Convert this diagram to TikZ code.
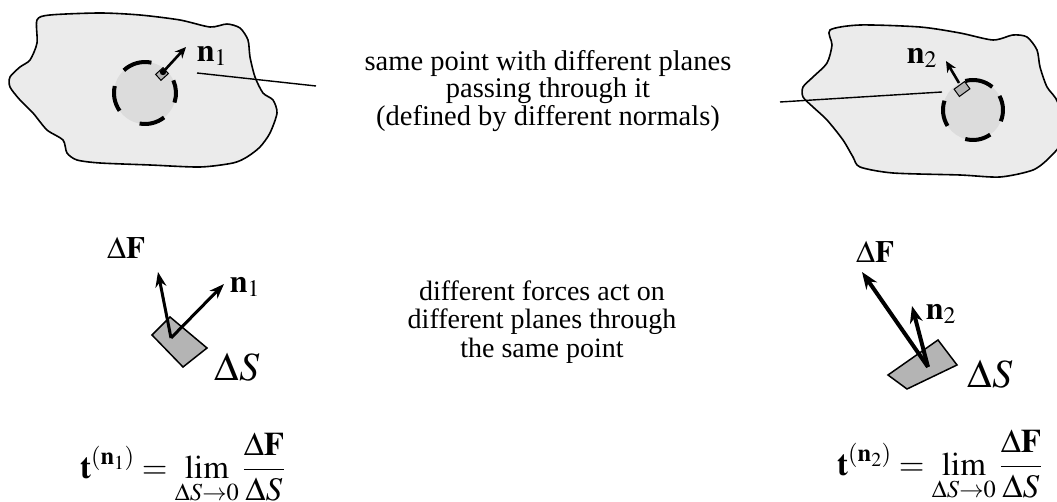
\documentclass[tikz,border=0pt]{standalone}
\usepackage{mathptmx}
\usepackage{fontspec}
\setmainfont{Liberation Serif}
\usetikzlibrary{arrows.meta}
\definecolor{blobfill}{HTML}{EBEBEB}
\definecolor{discfill}{HTML}{DCDCDC}
\definecolor{patchfill}{HTML}{B4B4B4}
\tikzset{
  blob/.style={draw=black, line width=1.6pt, fill=blobfill},
  disc/.style={fill=discfill},
  dasharc/.style={draw=black, line width=4pt},
  smallsq/.style={draw=black, line width=1pt, fill=patchfill, rectangle, inner sep=0pt},
  patch/.style={draw=black, line width=1.5pt, fill=patchfill, line join=miter},
  leader/.style={draw=black, line width=1.4pt},
  nrm/.style={draw=black, line width=2.6pt, -{Stealth[length=11pt, width=10pt]}},
  force/.style={draw=black, line width=3pt, -{Stealth[length=15pt, width=11pt]}},
  bigforce/.style={draw=black, line width=4pt, -{Stealth[length=17pt, width=13pt]}},
  txt/.style={align=center, inner sep=0pt, font=\fontsize{28.5}{27.5}\selectfont},
  txtb/.style={align=center, inner sep=0pt, font=\fontsize{28}{28.5}\selectfont},
  nlab/.style={inner sep=0pt, font=\fontsize{32}{36}\selectfont},
  flab/.style={inner sep=0pt, font=\fontsize{31}{36}\selectfont},
  slab/.style={inner sep=0pt, font=\fontsize{40}{44}\selectfont},
  formula/.style={inner sep=0pt, font=\fontsize{33}{38}\selectfont, anchor=base west},
}
\begin{document}
\begin{tikzpicture}[x=1pt, y=-1pt]
\useasboundingbox (0,0) rectangle (1057,502);
\clip (0,0) rectangle (1057,502);

% ---------- left body ----------
\path[blob] plot[smooth cycle, tension=0.45] coordinates {
 (37,20) (50,15) (100,13) (140,15) (180,20) (210,27) (227,24) (240,28)
 (248,40) (250,57) (255,77) (263,93) (273,100) (277,113) (270,133)
 (260,147) (247,157) (233,163) (200,167) (150,165) (100,163) (77,160)
 (67,153) (63,140) (47,130) (33,113) (20,100) (10,87) (10,77) (20,67)
 (30,60) (37,43)};
\coordinate (c1) at (145,93);
\fill[disc] (c1) circle[radius=31];
\foreach \a/\b in {78/133, 167/215, -100/-52, -18/24}{
  \draw[dasharc] ([shift={(-\a:31)}]c1) arc[start angle=-\a, end angle=-\b, radius=31];
}
\node[smallsq, rotate=42, minimum width=10pt, minimum height=8pt] (sq1) at (162,74) {};
\coordinate (b1) at (163,72);
\coordinate (h1) at (186,47);
\draw[nrm] (b1) -- (h1);
\fill[black] (b1) circle[radius=3.2];
\node[nlab] (n1top) at (212,56) {$\mathbf{n}_1$};

% ---------- right body ----------
\path[blob] plot[smooth cycle, tension=0.45] coordinates {
 (830,30) (860,25) (920,27) (960,33) (993,40) (1013,35) (1027,37)
 (1037,50) (1040,67) (1047,87) (1058,103) (1062,140) (1050,157)
 (1033,170) (1000,177) (960,175) (893,173) (860,167) (853,157)
 (843,140) (827,120) (813,107) (803,97) (803,87) (813,77) (827,63) (832,45)};
\coordinate (c2) at (973,110);
\fill[disc] (c2) circle[radius=30];
\foreach \a/\b in {50/105, 162/212, -105/-55, -22/28}{
  \draw[dasharc] ([shift={(-\a:30)}]c2) arc[start angle=-\a, end angle=-\b, radius=30];
}
\node[smallsq, rotate=36, minimum width=13pt, minimum height=9pt] (sq2) at (962,89) {};
\coordinate (b2) at (959,83);
\coordinate (h2) at (946,61);
\draw[nrm] (b2) -- (h2);
\node[nlab] (n2top) at (922,58) {$\mathbf{n}_{2}$};

% ---------- leaders and top text ----------
\node[txt] (toptext) at (548,91) {same point with different planes\\passing through it\\(defined by different normals)};
\coordinate (l1a) at (197,73);
\coordinate (l1b) at (316,86);
\draw[leader] (l1a) -- (l1b);
\coordinate (l2a) at (942,92);
\coordinate (l2b) at (780,102);
\draw[leader] (l2a) -- (l2b);

% ---------- middle left ----------
\path[patch] (152,335) -- (170,317) -- (207,348) -- (183,367) -- cycle;
\coordinate (p1) at (171,338);
\coordinate (f1) at (158,272);
\coordinate (m1) at (224,284);
\draw[force] (p1) -- (f1);
\draw[force] (p1) -- (m1);
\node[flab] (dF1) at (126,248) {$\Delta\mathbf{F}$};
\node[nlab] (n1mid) at (245,287) {$\mathbf{n}_1$};
\node[slab] (dS1) at (237,367) {$\Delta S$};

% ---------- middle text ----------
\node[txtb] (midtext) at (542,322) {different forces act on\\different planes through\\the same point};

% ---------- middle right ----------
\path[patch] (888,375) -- (938,340) -- (957,365) -- (907,389) -- cycle;
\coordinate (p2) at (928,367);
\coordinate (f2) at (862,272);
\coordinate (m2) at (912,306);
\draw[bigforce] (p2) -- (f2);
\draw[bigforce] (p2) -- (m2);
\node[flab] (dF2) at (875,252) {$\Delta\mathbf{F}$};
\node[nlab] (n2mid) at (941,314) {$\mathbf{n}_{2}$};
\node[slab] (dS2) at (990,374) {$\Delta S$};

% ---------- formulas ----------
\node[formula] (eq1) at (80,478) {$\displaystyle \mathbf{t}^{(\mathbf{n}_1)} = \lim_{\Delta S\to 0}\frac{\Delta\mathbf{F}}{\Delta S}$};
\node[formula] (eq2) at (837,475) {$\displaystyle \mathbf{t}^{(\mathbf{n}_2)} = \lim_{\Delta S\to 0}\frac{\Delta\mathbf{F}}{\Delta S}$};
\end{tikzpicture}
\end{document}
